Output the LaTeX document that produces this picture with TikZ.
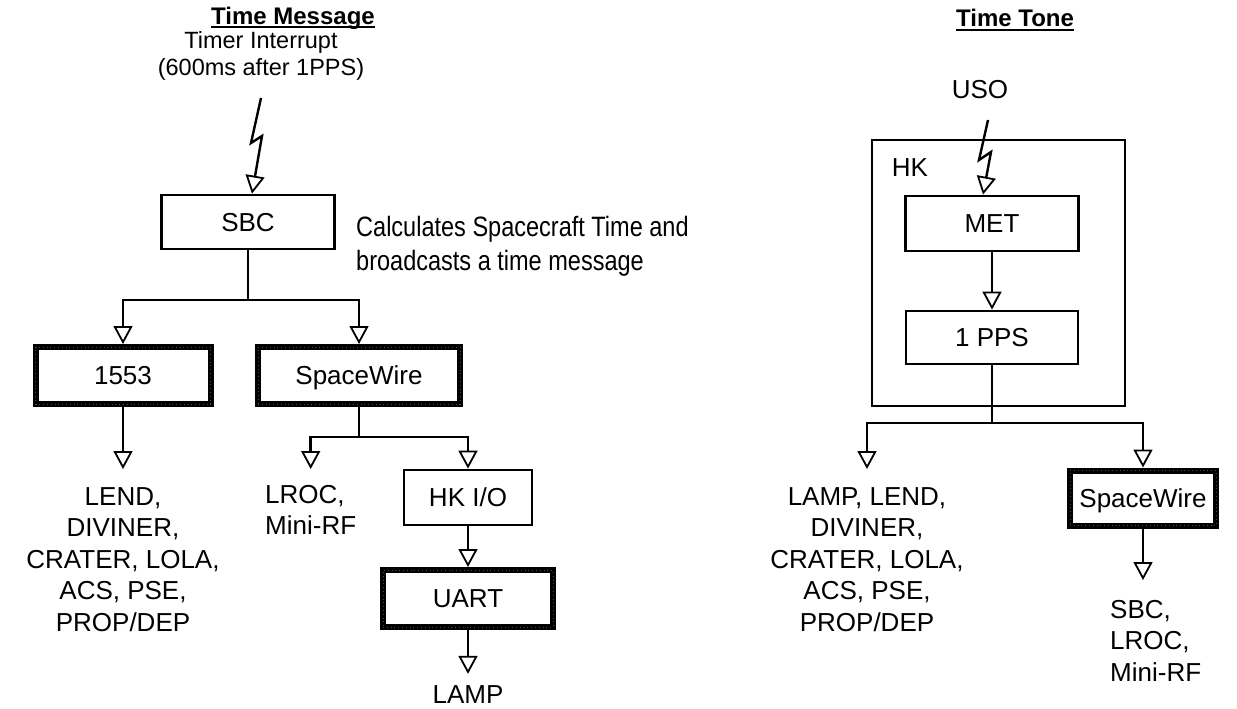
\documentclass[tikz,border=0pt]{standalone}
\usepackage{fontspec}
\setmainfont{Liberation Sans}
\newfontfamily\narrowfont{Liberation Sans}[FakeStretch=0.84]
\usetikzlibrary{positioning}
\usetikzlibrary{arrows.meta}

\tikzset{
  box/.style={draw, line width=2.8pt, minimum height=54pt, inner sep=0pt,
    text height=18.6pt, text depth=0pt, font=\fontsize{26}{31.5}\selectfont},
  busbox/.style={box, line width=6pt,
    postaction={draw, black!70, line width=0.6pt, dash pattern=on 0.8pt off 3pt}},
  txt/.style={align=center, inner sep=0pt, font=\fontsize{26}{31.5}\selectfont},
  head/.style={inner sep=0pt, font=\bfseries\fontsize{24}{28}\selectfont},
  wire/.style={line width=2.4pt},
  arr/.style={wire, -{Triangle[length=18pt, width=19pt, fill=white, line width=1.8pt]}},
}

\begin{document}
\begin{tikzpicture}[x=1pt, y=-1pt]
    \useasboundingbox (0,0) rectangle (1237,709);

    % time message side
    \node[head] (msgtitle) at (293,18) {Time Message};
    \draw[line width=2pt] ([yshift=-3pt]msgtitle.base west) -- ([yshift=-3pt]msgtitle.base east);
    \node[txt, font=\fontsize{23.5}{27}\selectfont] (timer) at (261,56) {Timer Interrupt\\(600ms after 1PPS)};

    \node[box, minimum width=173pt] (sbc) at (248,222) {SBC};
    \node[anchor=west, align=left, inner sep=0pt,
      font=\narrowfont\fontsize{28}{34}\selectfont] (calc) at (356,246)
      {Calculates Spacecraft Time and\\broadcasts a time message};

    \coordinate (zapA) at (261,98);
    \draw[arr] (zapA) -- (251,143) -- (262,136) -- ([xshift=4pt]sbc.north);

    \node[busbox, minimum width=175pt, minimum height=57pt] (bus1553) at (123,375.5) {1553};
    \node[busbox, minimum width=202pt, minimum height=57pt] (swleft) at (359,375.5) {SpaceWire};

    \draw[wire] (sbc.south) -- (248,300) coordinate (split1);
    \draw[arr] (split1) -| (bus1553.north);
    \draw[arr] (split1) -| (swleft.north);

    \node[txt, anchor=north] (listleft) at (123,487)
      {LEND,\\DIVINER,\\CRATER, LOLA,\\ACS, PSE,\\PROP/DEP};
    \draw[arr] (bus1553.south) -- ([yshift=18pt]listleft.north);

    \node[txt, anchor=north west, align=left] (lroc) at (265,485) {LROC,\\Mini-RF};
    \node[box, minimum width=128pt, minimum height=55pt] (hkio) at (468,497.5) {HK I/O};
    \node[busbox, minimum width=170pt, minimum height=57pt] (uart) at (468,598.5) {UART};
    \node[txt] (lamp) at (468,695) {LAMP};

    \draw[wire] (swleft.south) -- (359,437) coordinate (split2);
    \draw[arr] (split2) -| ([yshift=16pt]lroc.north);
    \draw[arr] (split2) -| (hkio.north);
    \draw[arr] (hkio.south) -- (uart.north);
    \draw[arr] (uart.south) -- ([yshift=12pt]lamp.north);

    % time tone side
    \node[head] (tonetitle) at (1015,18) {Time Tone};
    \draw[line width=2pt] ([yshift=-3pt]tonetitle.base west) -- ([yshift=-3pt]tonetitle.base east);
    \node[txt] (uso) at (980,90) {USO};

    \node[draw, line width=2.8pt, minimum width=253pt, minimum height=266pt] (hk) at (998.5,273) {};
    \node[txt] (hklabel) at (910,168) {HK};
    \node[box, minimum width=173pt, minimum height=55pt] (met) at (992,223.5) {MET};
    \node[box, minimum width=172pt, minimum height=53pt] (pps) at (992,337.5) {1 PPS};

    \coordinate (zapB) at (988,120);
    \draw[arr] (zapB) -- (979,160) -- (991,152) -- ([xshift=-9pt]met.north);
    \draw[arr] (met.south) -- (pps.north);

    \node[txt, anchor=north] (listright) at (867,487)
      {LAMP, LEND,\\DIVINER,\\CRATER, LOLA,\\ACS, PSE,\\PROP/DEP};
    \node[busbox, minimum width=146pt, minimum height=55pt] (swright) at (1143,498) {SpaceWire};
    \node[txt, anchor=north west, align=left] (sbclist) at (1110,600) {SBC,\\LROC,\\Mini-RF};

    \draw[wire] (pps.south) -- (992,423) coordinate (split3);
    \draw[arr] (split3) -| ([yshift=18pt]listright.north);
    \draw[arr] (split3) -| (swright.north);
    \draw[arr] (swright.south) -- ([yshift=20pt]swright.south |- sbclist.north);
\end{tikzpicture}
\end{document}
